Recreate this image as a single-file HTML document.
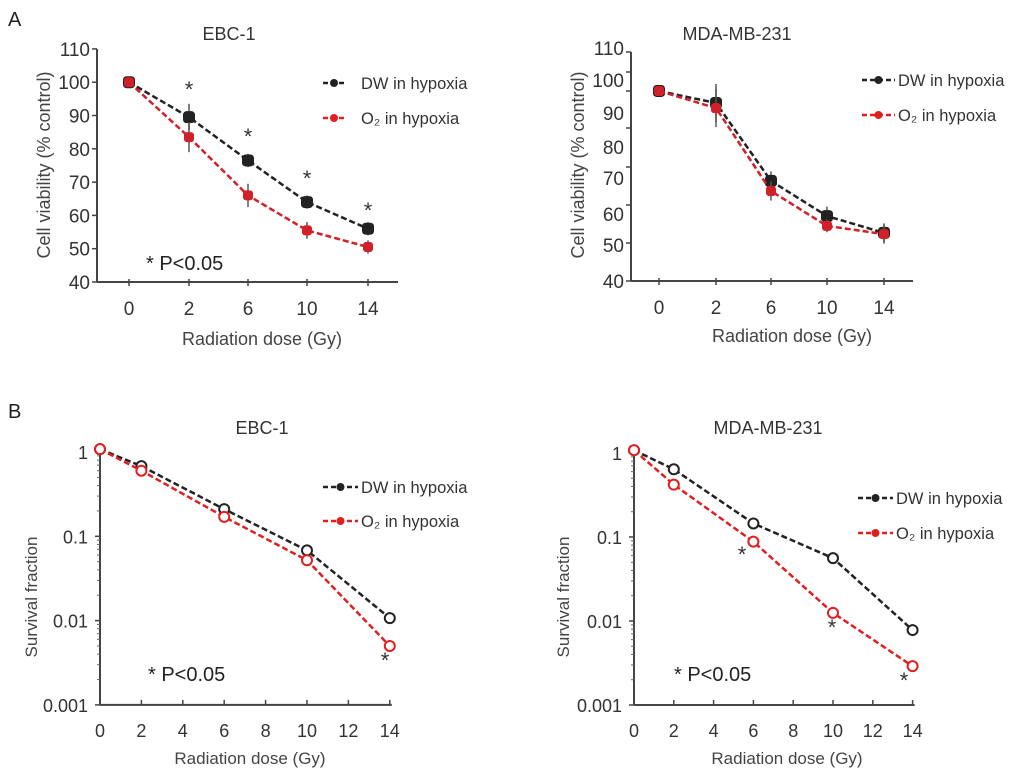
<!DOCTYPE html>
<html><head><meta charset="utf-8"><style>
body{margin:0;background:#fff;width:1016px;height:779px;overflow:hidden}
svg{font-family:"Liberation Sans",sans-serif}
</style></head><body>
<svg id="fig" width="1016" height="779">
<text x="8" y="26" font-size="20" fill="#222">A</text>
<text x="8" y="418" font-size="20" fill="#222">B</text>
</svg>
<script>
// Panel A (cell viability)
const catA = ["0","2","6","10","14"];
const aLeftDW = [100, 89.5, 76.5, 64, 56];
const aLeftO2 = [100, 83.5, 66, 55.5, 50.5];
const aLeftErrDW = [1, 4, 2, 2, 2];
const aLeftErrO2 = [1, 4.5, 3.5, 2.5, 2];
const aRightDW = [100, 96.2, 71.6, 60.5, 55.2];
const aRightO2 = [100, 94.6, 68.4, 57.4, 54.8];
const aRightErrDW = [1, 6, 3, 3, 3];
const aRightErrO2 = [1, 6, 3, 2, 3];
const aTicks = [40, 50, 60, 70, 80, 90, 100, 110];
// Panel B (survival, log)
const doseB = [0, 2, 6, 10, 14];
const bLeftDW = [1.08, 0.68, 0.21, 0.068, 0.0107];
const bLeftO2 = [1.08, 0.6, 0.17, 0.052, 0.005];
const bRightDW = [1.08, 0.64, 0.145, 0.056, 0.0078];
const bRightO2 = [1.08, 0.42, 0.088, 0.0125, 0.0029];
const bTicks = [0.001, 0.01, 0.1, 1];
const bTickLabels = ["0.001", "0.01", "0.1", "1"];
const bXTicks = [0, 2, 4, 6, 8, 10, 12, 14];

const svg = document.getElementById('fig');
const NS = 'http://www.w3.org/2000/svg';
function el(tag, at, parent, txt){const e=document.createElementNS(NS,tag);for(const k in at)e.setAttribute(k,at[k]);if(txt!==undefined)e.textContent=txt;(parent||svg).appendChild(e);return e;}

function legend(g, x1, x2, tx, y1, y2){
  [[y1,'#222','DW in hypoxia','legend-dw'],[y2,'#e02020','O₂ in hypoxia','legend-o2']].forEach(([y,c,t,n])=>{
    const lg=el('g',{},g);
    
    
    el('line',{x1:x1,x2:x2,y1:y,y2:y,stroke:c,'stroke-width':2.5,'stroke-dasharray':'5,3'},lg);
    el('circle',{cx:(x1+x2)/2,cy:y,r:4,fill:c},lg);
    el('text',{x:tx,y:y+6,'font-size':16.5,fill:'#333'},lg,t);
  });
}

function series(g, xs, ys, errs, color, name, open, r){
  const pts = xs.map((x,i)=>x+','+ys[i]).join(' ');
  const pl=el('polyline',{points:pts,fill:'none',stroke:color,'stroke-width':2.5,'stroke-dasharray':'6,3'},g);
  
  
  xs.forEach((x,i)=>{
    if(errs){el('line',{x1:x,x2:x,y1:ys[i]-errs[i],y2:ys[i]+errs[i],stroke:'#555','stroke-width':1.5},g);}
    const m = open ? el('circle',{cx:x,cy:ys[i],r:5,fill:'#fff',stroke:color,'stroke-width':2},g)
                   : el('rect',{x:x-r,y:ys[i]-r,width:2*r,height:2*r,rx:r*0.6,fill:color},g);
    
    
  });
}

function panelA(cfg){
  const g=el('g',{});
  
  
  const y=v=>cfg.y0 - (v-cfg.v0)*cfg.k;
  el('line',{x1:cfg.ax,x2:cfg.ax,y1:cfg.tickTop,y2:cfg.tickBot,stroke:'#444','stroke-width':2},g);
  el('line',{x1:cfg.ax,x2:cfg.axEnd,y1:cfg.tickBot,y2:cfg.tickBot,stroke:'#444','stroke-width':2},g);
  aTicks.forEach((t,i)=>{
    const ty = cfg.tickYs ? cfg.tickYs[i] : y(t);
    el('line',{x1:cfg.ax-5,x2:cfg.ax,y1:ty,y2:ty,stroke:'#444','stroke-width':1.5},g);
    const ly = cfg.labelYs ? cfg.labelYs[i] : ty;
    el('text',{x:cfg.ax-7,y:ly+7,'font-size':19,'text-anchor':'end',fill:'#333'},g,String(t));
  });
  catA.forEach((c,i)=>{
    el('line',{x1:cfg.xs[i],x2:cfg.xs[i],y1:cfg.tickBot-3,y2:cfg.tickBot+4,stroke:'#444','stroke-width':1.5},g);
    el('text',{x:cfg.xs[i],y:cfg.tickBot+33,'font-size':19,'text-anchor':'middle',fill:'#333'},g,c);
  });
  el('text',{x:cfg.title[0],y:cfg.title[1],'font-size':18,'text-anchor':'middle',fill:'#333'},g,cfg.titleText);
  el('text',{x:cfg.xl[0],y:cfg.xl[1],'font-size':18,'text-anchor':'middle',fill:'#444'},g,'Radiation dose (Gy)');
  el('text',{x:0,y:0,'font-size':18,'text-anchor':'middle',fill:'#444',transform:`translate(${cfg.yl[0]},${cfg.yl[1]}) rotate(-90)`},g,'Cell viability (% control)');
  const k=cfg.k;
  series(g,cfg.xs,cfg.dw.map(y),cfg.edw.map(e=>e*k),'#222','dw',false,6);
  series(g,cfg.xs,cfg.o2.map(y),cfg.eo2.map(e=>e*k),'#d0202a','o2',false,5);
  legend(g,cfg.leg[0],cfg.leg[1],cfg.leg[2],cfg.leg[3],cfg.leg[4]);
  if(cfg.stars) cfg.stars.forEach(s=>{const t=el('text',{x:s[0],y:s[1]+10,'font-size':22,'text-anchor':'middle',fill:'#333'},g,'*');});
  if(cfg.p) el('text',{x:cfg.p[0],y:cfg.p[1],'font-size':20,fill:'#222'},g,'* P<0.05');
}

panelA({name:'panel-a-ebc1',ax:97,axEnd:398,v0:40,y0:282,k:3.33,tickTop:49,tickBot:282,
  xs:[129,189,248,307,368],dw:aLeftDW,o2:aLeftO2,edw:aLeftErrDW,eo2:aLeftErrO2,
  title:[229,40],titleText:'EBC-1',xl:[262,345],yl:[50,165],leg:[323,345,361,83,118],
  stars:[[189,87],[248,134],[307,176],[368,208]],p:[146,270]});
panelA({name:'panel-a-mda',ax:631,axEnd:913,v0:40,y0:281,k:3.167,tickTop:52,tickBot:281,
  tickYs:[281,243,205,167,128,91,72,52],labelYs:[281,245,214,178,147,113,80,48],
  xs:[659,716,771,827,884],dw:aRightDW,o2:aRightO2,edw:aRightErrDW,eo2:aRightErrO2,
  title:[737,40],titleText:'MDA-MB-231',xl:[792,342],yl:[584,165],leg:[862,895,898,80,115]});

function panelB(cfg){
  const g=el('g',{});
  
  
  const x=d=>cfg.ax + d*cfg.kx;
  const y=v=>cfg.y1 - Math.log10(v)*cfg.dec;
  const bot=y(0.001);
  el('line',{x1:cfg.ax,x2:cfg.ax,y1:y(1)-8,y2:bot,stroke:'#444','stroke-width':2},g);
  el('line',{x1:cfg.ax,x2:x(14)+2,y1:bot,y2:bot,stroke:'#444','stroke-width':2},g);
  bTicks.forEach((t,i)=>{
    el('line',{x1:cfg.ax-5,x2:cfg.ax,y1:y(t),y2:y(t),stroke:'#444','stroke-width':1.5},g);
    el('text',{x:cfg.ax-12,y:y(t)+7,'font-size':18,'text-anchor':'end',fill:'#333'},g,bTickLabels[i]);
    if(t<1) for(let m=2;m<10;m++){const yy=y(t*m);el('line',{x1:cfg.ax-3,x2:cfg.ax,y1:yy,y2:yy,stroke:'#666','stroke-width':1},g);}
  });
  bXTicks.forEach(d=>{
    el('line',{x1:x(d),x2:x(d),y1:bot-5,y2:bot,stroke:'#444','stroke-width':1.5},g);
    el('text',{x:x(d),y:bot+32,'font-size':18,'text-anchor':'middle',fill:'#333'},g,String(d));
  });
  el('text',{x:cfg.title[0],y:434,'font-size':18,'text-anchor':'middle',fill:'#333'},g,cfg.titleText);
  el('text',{x:cfg.xl,y:764,'font-size':17,'text-anchor':'middle',fill:'#444'},g,'Radiation dose (Gy)');
  el('text',{x:0,y:0,'font-size':17,'text-anchor':'middle',fill:'#444',transform:`translate(${cfg.yl},597) rotate(-90)`},g,'Survival fraction');
  const xs=doseB.map(x);
  series(g,xs,cfg.dw.map(y),null,'#222','dw',true,5);
  series(g,xs,cfg.o2.map(y),null,'#e02020','o2',true,5);
  legend(g,cfg.leg[0],cfg.leg[1],cfg.leg[2],cfg.leg[3],cfg.leg[4]);
  cfg.stars.forEach(s=>{const t=el('text',{x:s[0],y:s[1]+10,'font-size':22,'text-anchor':'middle',fill:'#333'},g,'*');});
  el('text',{x:cfg.p,y:681,'font-size':20,fill:'#222'},g,'* P<0.05');
}
panelB({name:'panel-b-ebc1',ax:100,kx:20.7,y1:452,dec:84.3,dw:bLeftDW,o2:bLeftO2,title:[262],titleText:'EBC-1',
  xl:[250],yl:37,leg:[323,358,361,487,521],stars:[[385,658]],p:148});
panelB({name:'panel-b-mda',ax:634,kx:19.9,y1:453,dec:84,dw:bRightDW,o2:bRightO2,title:[768],titleText:'MDA-MB-231',
  xl:[787],yl:569,leg:[858,893,896,498,533],stars:[[742,552],[832,625],[904,678]],p:674});
</script>
</body></html>
